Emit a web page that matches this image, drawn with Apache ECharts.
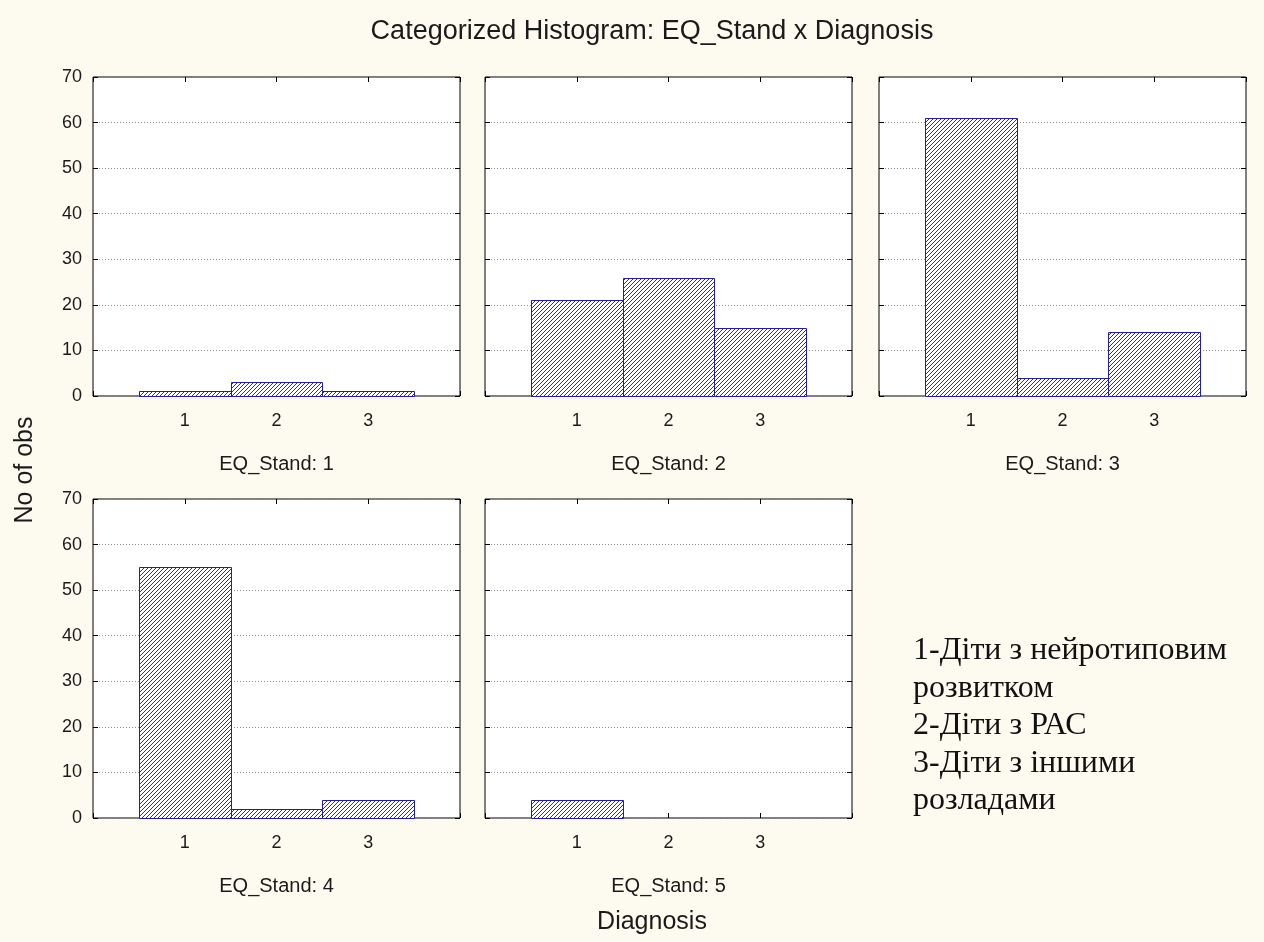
<!DOCTYPE html>
<html>
<head>
<meta charset="utf-8">
<script src="https://cdn.jsdelivr.net/npm/echarts@6/dist/echarts.min.js"></script>
<style>
html,body{margin:0;padding:0;background:#fdfbf0;}
#chart{width:1264px;height:942px;}
</style>
</head>
<body>
<div id="chart"></div>
<script>
// ---- data ----
const diagnosisCodes = [1, 2, 3];
const panelTitles = ['EQ_Stand: 1', 'EQ_Stand: 2', 'EQ_Stand: 3', 'EQ_Stand: 4', 'EQ_Stand: 5'];
const eq1 = [1, 3, 1];
const eq2 = [21, 26, 15];
const eq3 = [61, 4, 14];
const eq4 = [55, 2, 4];
const eq5 = [4, 0, 0];
const yTicks = [0, 10, 20, 30, 40, 50, 60, 70];
const legendLines = ['1-Діти з нейротиповим', 'розвитком', '2-Діти з РАС', '3-Діти з іншими', 'розладами'];
const chartTitle = 'Categorized Histogram: EQ_Stand x Diagnosis';
const yTitle = 'No of obs';
const xTitle = 'Diagnosis';

const panelValues = [eq1, eq2, eq3, eq4, eq5];

// ---- layout ----
const colLeft = [93, 485, 879];
const rowTop = [77, 499];
const pw = 367, ph = 319;
const panelPos = [[0,0],[1,0],[2,0],[0,1],[1,1]];

// hatch pattern
const pc = document.createElement('canvas');
pc.width = 4; pc.height = 4;
const ctx = pc.getContext('2d');
ctx.fillStyle = '#ffffff';
ctx.fillRect(0,0,4,4);
ctx.strokeStyle = '#2c2c5c';
ctx.lineWidth = 0.95;
ctx.beginPath();
ctx.moveTo(-1,5); ctx.lineTo(5,-1);
ctx.moveTo(-1,1); ctx.lineTo(1,-1);
ctx.moveTo(3,5); ctx.lineTo(5,3);
ctx.stroke();
const hatch = {image: pc, repeat: 'repeat'};

const grids = [], xAxes = [], yAxes = [], series = [], graphics = [];
const labelFont = {fontFamily: 'Liberation Sans, Arial, sans-serif', color: '#1a1a1a'};
const tickStyle = {show: true, inside: true, length: 5, lineStyle: {color: '#000', width: 1}};
const noLine = {show: false, onZero: false};

panelPos.forEach(([c, r], i) => {
  const left = colLeft[c], top = rowTop[r];
  grids.push({left: left, top: top, width: pw, height: ph, show: true,
    backgroundColor: '#ffffff', borderColor: '#000000', borderWidth: 1});
  // bottom x axis
  xAxes.push({type: 'value', gridIndex: i, min: 0, max: 4, interval: 1, position: 'bottom',
    axisLine: noLine,
    axisTick: tickStyle,
    axisLabel: {show: true, margin: 16, fontSize: 18, ...labelFont,
      formatter: v => (diagnosisCodes.indexOf(v) >= 0 ? String(v) : '')},
    splitLine: {show: false}});
  // top x axis (ticks only)
  xAxes.push({type: 'value', gridIndex: i, min: 0, max: 4, interval: 1, position: 'top',
    axisLine: noLine,
    axisTick: tickStyle,
    axisLabel: {show: false}, splitLine: {show: false}});
  // left y axis
  yAxes.push({type: 'value', gridIndex: i, min: yTicks[0], max: yTicks[yTicks.length-1], interval: 10,
    position: 'left',
    axisLine: noLine,
    axisTick: tickStyle,
    axisLabel: {show: c === 0, margin: 11, fontSize: 18, ...labelFont},
    splitLine: {show: true, lineStyle: {color: '#8c8c8c', type: [1, 2], width: 1}}});
  // right y axis (ticks only)
  yAxes.push({type: 'value', gridIndex: i, min: yTicks[0], max: yTicks[yTicks.length-1], interval: 10,
    position: 'right',
    axisLine: noLine,
    axisTick: tickStyle,
    axisLabel: {show: false}, splitLine: {show: false}});

  series.push({
    type: 'custom', xAxisIndex: i*2, yAxisIndex: i*2,
    data: diagnosisCodes.map((d, k) => [d, panelValues[i][k]]),
    renderItem: function (params, api) {
      const x = api.value(0), v = api.value(1);
      if (!v) return null;
      const p0 = api.coord([x - 0.5, v]);
      const p1 = api.coord([x + 0.5, 0]);
      return {type: 'rect',
        shape: {x: Math.round(p0[0]) + 0.5, y: Math.round(p0[1]) + 0.5,
                width: Math.round(p1[0]) - Math.round(p0[0]), height: Math.round(p1[1]) - Math.round(p0[1])},
        style: {fill: hatch, stroke: '#20209a', lineWidth: 1}};
    },
    silent: true, z: 3
  });

  graphics.push({type: 'text', x: left + pw/2, y: top + ph + 68,
    style: {text: panelTitles[i], font: '20px "Liberation Sans", Arial, sans-serif',
      fill: '#1a1a1a', textAlign: 'center', textVerticalAlign: 'middle'}});
});

graphics.push({type: 'text', x: 652, y: 32,
  style: {text: chartTitle, font: '27px "Liberation Sans", Arial, sans-serif',
    fill: '#1a1a1a', textAlign: 'center', textVerticalAlign: 'middle'}});
graphics.push({type: 'text', x: 652, y: 922,
  style: {text: xTitle, font: '25px "Liberation Sans", Arial, sans-serif',
    fill: '#1a1a1a', textAlign: 'center', textVerticalAlign: 'middle'}});
graphics.push({type: 'text', x: 25, y: 470, rotation: Math.PI/2,
  style: {text: yTitle, font: '25px "Liberation Sans", Arial, sans-serif',
    fill: '#1a1a1a', textAlign: 'center', textVerticalAlign: 'middle'}});
legendLines.forEach((t, k) => {
  graphics.push({type: 'text', x: 913, y: 651 + k*37.5,
    style: {text: t, font: '32px "Liberation Serif", "Times New Roman", serif',
      fill: '#111111', textAlign: 'left', textVerticalAlign: 'middle'}});
});

const chart = echarts.init(document.getElementById('chart'), null, {renderer: 'canvas'});
chart.setOption({
  backgroundColor: '#fdfbf0',
  animation: false,
  grid: grids, xAxis: xAxes, yAxis: yAxes, series: series,
  graphic: {elements: graphics}
});
</script>
</body>
</html>
